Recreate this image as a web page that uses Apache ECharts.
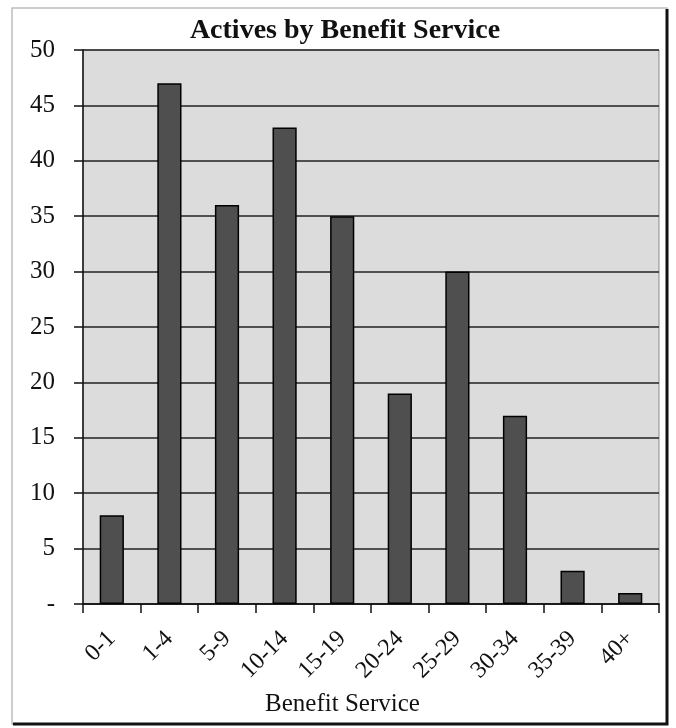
<!DOCTYPE html>
<html>
<head>
<meta charset="utf-8">
<script src="https://cdn.jsdelivr.net/npm/echarts@6/dist/echarts.min.js"></script>
<style>
  html, body { margin: 0; padding: 0; background: #ffffff; }
  #chart { width: 676px; height: 728px; }
</style>
</head>
<body>
<div id="chart"></div>
<script>
// Service bands and active member counts
const categories = ['0-1', '1-4', '5-9', '10-14', '15-19', '20-24', '25-29', '30-34', '35-39', '40+'];
const actives = [8, 47, 36, 43, 35, 19, 30, 17, 3, 1];
const yTicks = { min: 0, max: 50, interval: 5 };

const serif = '"Liberation Serif", "Times New Roman", serif';
const chart = echarts.init(document.getElementById('chart'));

chart.setOption({
  backgroundColor: '#ffffff',
  animation: false,
  title: {
    text: 'Actives by Benefit Service',
    left: 345,
    textAlign: 'center',
    top: 17,
    padding: 0,
    textStyle: { fontFamily: serif, fontWeight: 'bold', fontSize: 28, color: '#111' }
  },
  grid: {
    left: 83, right: 17, top: 50, bottom: 124,
    show: true,
    backgroundColor: '#dcdcdc',
    borderColor: '#8a8a8a',
    borderWidth: 1
  },
  xAxis: {
    type: 'category',
    data: categories,
    name: 'Benefit Service',
    nameLocation: 'middle',
    nameGap: 88,
    nameTextStyle: { fontFamily: serif, fontSize: 25, color: '#111', padding: [0, 57, 0, 0] },
    axisLine: { lineStyle: { color: '#111', width: 1.5 } },
    axisTick: { show: true, length: 9, lineStyle: { color: '#111', width: 1.5 } },
    axisLabel: { rotate: 45, fontFamily: serif, fontSize: 24, color: '#111', margin: 31 }
  },
  yAxis: {
    type: 'value',
    min: yTicks.min,
    max: yTicks.max,
    interval: yTicks.interval,
    axisLine: { show: true, lineStyle: { color: '#111', width: 1.5 } },
    axisTick: { show: true, length: 9, lineStyle: { color: '#111', width: 1.5 } },
    axisLabel: {
      fontFamily: serif, fontSize: 25, color: '#111', margin: 28,
      formatter: v => (v === 0 ? '-' : String(v))
    },
    splitLine: { show: true, lineStyle: { color: '#222', width: 1.5 } }
  },
  series: [{
    type: 'bar',
    data: actives,
    barWidth: '42%',
    itemStyle: { color: '#4f4f4f', borderColor: '#000', borderWidth: 1.5 }
  }],
  graphic: [
    {
      type: 'rect',
      shape: { x: 12, y: 8, width: 655, height: 716 },
      style: { fill: 'none', stroke: '#bdbdbd', lineWidth: 1.5 },
      silent: true, z: -1
    },
    {
      type: 'polyline',
      shape: { points: [[667, 9], [667, 724], [13, 724]] },
      style: { fill: 'none', stroke: '#111', lineWidth: 3 },
      silent: true
    }
  ]
});
</script>
</body>
</html>
